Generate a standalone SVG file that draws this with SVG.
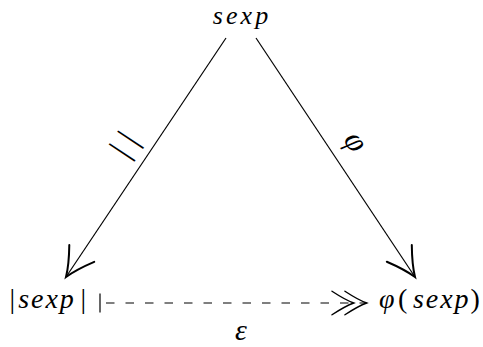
<svg xmlns="http://www.w3.org/2000/svg" width="483" height="347" viewBox="0 0 483 347">
<style>
.m{font-family:"Liberation Serif","Times New Roman",serif;font-style:italic;font-size:28px;fill:#000}
.u{font-family:"Liberation Serif","Times New Roman",serif;font-style:normal;font-size:28px;fill:#000}
.ln{stroke:#000;stroke-width:1.2;fill:none}
</style>
<defs>
<marker id="to" markerUnits="userSpaceOnUse" orient="auto" markerWidth="40" markerHeight="40" viewBox="-20 -12 22 24" refX="0" refY="0">
<path d="M-17,-9 Q-7,-2.5 0,0 Q-7,2.5 -17,9" stroke="#000" stroke-width="1.2" fill="none" stroke-linecap="round"/>
</marker>
<marker id="two" markerUnits="userSpaceOnUse" orient="auto" markerWidth="40" markerHeight="40" viewBox="-32 -12 34 24" refX="0" refY="0">
<path d="M-18.5,-10 Q-7,-2.5 0,0 Q-7,2.5 -18.5,10 M-29.5,-10 Q-18,-2.5 -11,0 Q-18,2.5 -29.5,10" stroke="#000" stroke-width="1.2" fill="none" stroke-linecap="round"/>
</marker>
</defs>
<g id="connectors">
<line class="ln" x1="226" y1="38" x2="66" y2="277" marker-end="url(#to)"/>
<line class="ln" x1="256" y1="38" x2="415" y2="277" marker-end="url(#to)"/>
<line class="ln" x1="100" y1="293.5" x2="100" y2="312.5"/>
<line class="ln" x1="106" y1="303" x2="366.7" y2="303" stroke-dasharray="8.5 11" marker-end="url(#two)"/>
<text class="u" text-anchor="middle" transform="translate(126.4,146) rotate(-56.5)" x="0" y="8" style="font-size:34px">| |</text>
<text class="m" text-anchor="middle" transform="translate(351,145) rotate(56.4)" x="0" y="4" style="font-size:32px">φ</text>
<text class="m" x="241" y="340" text-anchor="middle" style="font-size:30px">ε</text>
</g>
<g id="node-sexp">
<text class="m" x="212.7" y="24" textLength="55.5" lengthAdjust="spacing" style="font-size:26px">sexp</text>
</g>
<g id="node-abs">
<text class="u" x="9.5" y="308">|</text>
<text class="m" x="18.3" y="308" textLength="55.5" lengthAdjust="spacing">sexp</text>
<text class="u" x="80.5" y="308">|</text>
</g>
<g id="node-phi">
<text class="m" x="379" y="308">φ</text>
<text class="u" x="398" y="308">(</text>
<text class="m" x="413" y="308" textLength="55.5" lengthAdjust="spacing">sexp</text>
<text class="u" x="470.5" y="308">)</text>
</g>
</svg>
